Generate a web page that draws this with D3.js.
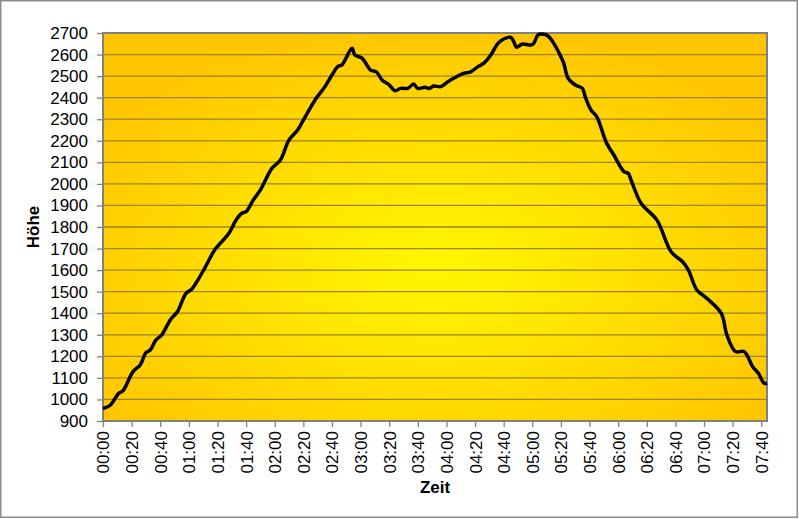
<!DOCTYPE html>
<html>
<head>
<meta charset="utf-8">
<script src="https://cdn.jsdelivr.net/npm/d3@7"></script>
<style>
  body { margin: 0; background: #fff; }
  svg { display: block; font-family: "Liberation Sans", Arial, sans-serif; }
</style>
</head>
<body>
<div id="chart"></div>
<script>
// Zeit in Minuten seit Start, Höhe in m
const minutes = [0, 5, 11, 14, 21, 26, 30, 33, 37, 41, 47, 52, 58, 62, 67, 71, 78, 83, 88, 93, 97, 100, 105, 110, 118, 124, 130, 136, 140, 149, 155, 160, 164, 167, 174, 176, 181, 187, 191, 195, 200, 204, 208, 213, 217, 220, 225, 228, 231, 236, 241, 247, 252, 257, 262, 266, 271, 276, 280, 285, 287, 289, 293, 299, 301, 304, 307, 311, 315, 320, 322, 325, 330, 335, 337, 341, 345, 352, 357, 364, 367, 369, 376, 387, 397, 405, 409, 415, 422, 432, 436, 442, 448, 454, 458, 462, 464];
const heights = [958, 973, 1029, 1041, 1129, 1160, 1217, 1229, 1276, 1299, 1369, 1407, 1492, 1511, 1562, 1608, 1693, 1732, 1771, 1833, 1864, 1871, 1925, 1972, 2072, 2111, 2204, 2250, 2296, 2397, 2450, 2505, 2544, 2552, 2629, 2598, 2583, 2528, 2520, 2482, 2459, 2432, 2443, 2443, 2463, 2443, 2448, 2443, 2454, 2451, 2474, 2497, 2513, 2520, 2544, 2559, 2598, 2652, 2672, 2680, 2660, 2634, 2649, 2644, 2652, 2691, 2695, 2686, 2652, 2590, 2559, 2490, 2459, 2443, 2404, 2343, 2312, 2188, 2134, 2057, 2049, 2018, 1910, 1833, 1685, 1639, 1601, 1508, 1469, 1400, 1299, 1222, 1222, 1152, 1121, 1075, 1075];

const yTicks = d3.range(900, 2701, 100);
const xTickLabels = ["00:00","00:20","00:40","01:00","01:20","01:40","02:00","02:20","02:40","03:00","03:20","03:40","04:00","04:20","04:40","05:00","05:20","05:40","06:00","06:20","06:40","07:00","07:20","07:40"];
const xTicks = xTickLabels.map(s => +s.slice(0,2) * 60 + +s.slice(3));

const W = 799, H = 519;
const plot = {left: 103, top: 33, right: 767, bottom: 421};

const svg = d3.select("#chart").append("svg")
  .attr("width", W).attr("height", H);

// äußerer Rahmen
svg.append("rect")
  .attr("x", 0.75).attr("y", 0.75)
  .attr("width", 796.5).attr("height", 516.5)
  .attr("fill", "#fff").attr("stroke", "#8c8c8c").attr("stroke-width", 1.5);

const defs = svg.append("defs");
const grad = defs.append("radialGradient").attr("id", "bg")
  .attr("cx", "50%").attr("cy", "60%").attr("r", "62%");
grad.append("stop").attr("offset", "0%").attr("stop-color", "#fff800");
grad.append("stop").attr("offset", "100%").attr("stop-color", "#ffc600");

const x = d3.scaleLinear().domain([0, 464]).range([plot.left, plot.right]);
const y = d3.scaleLinear().domain([900, 2700]).range([plot.bottom, plot.top]);

svg.append("rect")
  .attr("x", plot.left).attr("y", plot.top)
  .attr("width", plot.right - plot.left).attr("height", plot.bottom - plot.top)
  .attr("fill", "url(#bg)");

// Gitternetz
svg.append("g").selectAll("line").data(yTicks.slice(1, -1)).join("line")
  .attr("x1", plot.left).attr("x2", plot.right)
  .attr("y1", d => y(d)).attr("y2", d => y(d))
  .attr("stroke", "#9a8424").attr("stroke-width", 1.3);

// y-Achse
const yAxis = svg.append("g")
  .attr("transform", `translate(${plot.left},0)`)
  .call(d3.axisLeft(y).tickValues(yTicks).tickSize(6).tickPadding(9).tickFormat(d3.format("d")));
yAxis.select(".domain").remove();
yAxis.selectAll(".tick line").attr("stroke", "#808080").attr("stroke-width", 1.3);
yAxis.selectAll("text").attr("font-size", 17).attr("fill", "#000")
  .attr("font-family", "Liberation Sans, Arial, sans-serif");

// x-Achse
const xAxis = svg.append("g")
  .attr("transform", `translate(0,${plot.bottom})`)
  .call(d3.axisBottom(x).tickValues(xTicks).tickSize(6).tickFormat((d, i) => xTickLabels[i]));
xAxis.select(".domain").remove();
xAxis.selectAll(".tick line").attr("stroke", "#808080").attr("stroke-width", 1.3);
xAxis.selectAll("text")
  .attr("font-size", 17).attr("fill", "#000")
  .attr("font-family", "Liberation Sans, Arial, sans-serif")
  .attr("transform", "rotate(-90)")
  .attr("text-anchor", "end")
  .attr("x", -10).attr("y", 0).attr("dy", "0.35em");

// Rahmen der Zeichenfläche
svg.append("rect")
  .attr("x", plot.left).attr("y", plot.top)
  .attr("width", plot.right - plot.left).attr("height", plot.bottom - plot.top)
  .attr("fill", "none").attr("stroke", "#808080").attr("stroke-width", 2);

// Linie
const line = d3.line()
  .x((d, i) => x(minutes[i]))
  .y(d => y(d))
  .curve(d3.curveCatmullRom);
svg.append("path")
  .datum(heights)
  .attr("d", line)
  .attr("fill", "none")
  .attr("stroke", "#000")
  .attr("stroke-width", 3.5)
  .attr("stroke-linejoin", "round");

// Achsentitel
svg.append("text")
  .attr("x", 435).attr("y", 493)
  .attr("text-anchor", "middle")
  .attr("font-size", 17).attr("font-weight", "bold")
  .text("Zeit");
svg.append("text")
  .attr("transform", `translate(39,${(plot.top + plot.bottom) / 2}) rotate(-90)`)
  .attr("text-anchor", "middle")
  .attr("font-size", 17).attr("font-weight", "bold")
  .text("Höhe");
</script>
</body>
</html>
